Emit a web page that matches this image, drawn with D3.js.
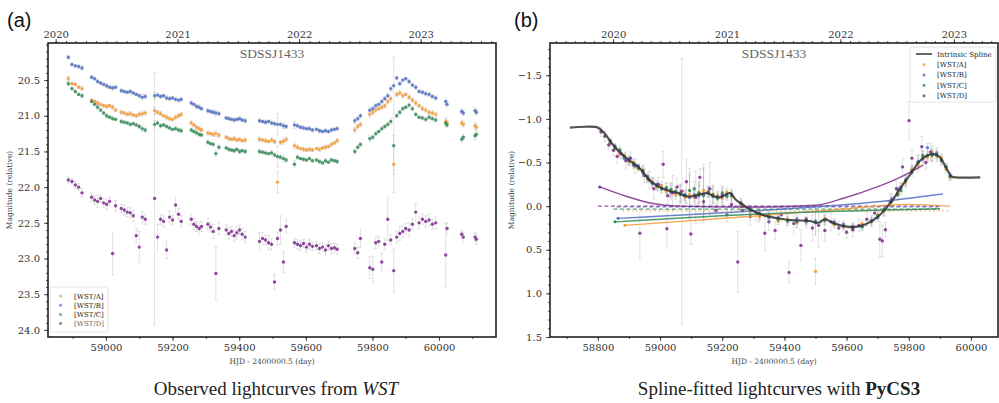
<!DOCTYPE html>
<html>
<head>
<meta charset="utf-8">
<script src="https://cdn.jsdelivr.net/npm/d3@7"></script>
<style>
body { margin: 0; background: #fff; }
svg { display: block; }
</style>
</head>
<body>
<svg id="fig" width="999" height="403"></svg>
<script>
// ---- observed light curves (panel a), shared epochs for the 4 images
var epochs = [
  58887, 58898, 58908, 58918, 58928,
  58957, 58966, 58975, 58984, 58993, 59002, 59011, 59020, 59029,
  59046, 59055, 59064, 59073, 59082, 59091, 59100, 59109, 59118,
  59146, 59155, 59164, 59173, 59182, 59191, 59200, 59209, 59218, 59226,
  59256, 59264, 59272, 59280, 59287,
  59306, 59314, 59322, 59330, 59339,
  59361, 59369, 59377, 59385, 59393, 59401, 59409, 59418,
  59461, 59470, 59479, 59488, 59497, 59506, 59515, 59524, 59533, 59541,
  59566, 59575, 59584, 59593, 59602, 59611, 59620,
  59632, 59641, 59650, 59659, 59668, 59677, 59686, 59694,
  59747, 59756, 59764,
  59792, 59801, 59810, 59819, 59828, 59837, 59846, 59855, 59864, 59873, 59882,
  59891, 59900, 59910, 59920, 59930, 59940, 59950, 59960, 59970, 59980, 59990,
  60020, 60024,
  60068, 60073, 60108, 60112
];
var magA = [
  20.48, 20.55, 20.56, 20.60, 20.62,
  20.78, 20.80, 20.82, 20.84, 20.86, 20.87, 20.86, 20.88, 20.92,
  20.95, 20.96, 20.98, 20.97, 20.99, 21.00, 20.98, 20.97, 20.96,
  20.93, 20.95, 20.97, 21.00, 21.02, 21.04, 21.05, 21.02, 21.00, 20.98,
  21.10, 21.13, 21.16, 21.18, 21.20,
  21.24, 21.25, 21.26, 21.25, 21.27,
  21.30, 21.32, 21.33, 21.32, 21.34, 21.33, 21.35, 21.34,
  21.33, 21.34, 21.35, 21.36, 21.34, 21.36, 21.93, 21.37, 21.36, 21.33,
  21.42, 21.44, 21.46, 21.47, 21.48, 21.47, 21.48,
  21.46, 21.47, 21.45, 21.44, 21.43, 21.40, 21.38, 21.35,
  21.20, 21.15, 21.12,
  20.98, 20.95, 20.92, 20.90, 20.88, 20.86, 20.80, 20.76, 21.68, 20.70, 20.68,
  20.72, 20.70, 20.74, 20.78, 20.82, 20.86, 20.90, 20.92, 20.95, 20.96, 20.98,
  21.08, 21.10,
  21.10, 21.12, 21.14, 21.16
];
var magB = [
  20.18, 20.28, 20.30, 20.31, 20.33,
  20.46, 20.48, 20.52, 20.54, 20.56, 20.58, 20.60, 20.61, 20.60,
  20.65, 20.66, 20.67, 20.66, 20.68, 20.70, 20.72, 20.74, 20.73,
  20.72, 20.71, 20.73, 20.72, 20.75, 20.76, 20.75, 20.77, 20.78, 20.77,
  20.82, 20.84, 20.87, 20.88, 20.90,
  20.93, 20.94, 20.95, 20.96, 20.97,
  21.03, 21.04, 21.05, 21.06, 21.05, 21.04, 21.06, 21.07,
  21.07, 21.08, 21.09, 21.08, 21.10, 21.11, 21.12, 21.12, 21.14, 21.15,
  21.13, 21.14, 21.16, 21.17, 21.18, 21.18, 21.20,
  21.19, 21.21, 21.22, 21.21, 21.22, 21.20, 21.19, 21.18,
  21.07, 21.04, 21.00,
  20.92, 20.90, 20.86, 20.84, 20.80, 20.76, 20.72, 20.62, 20.58, 20.47, 20.55,
  20.50, 20.48, 20.52, 20.57, 20.60, 20.66, 20.67, 20.69, 20.70, 20.73, 20.75,
  20.80, 20.84,
  20.94, 20.96, 20.93, 20.95
];
var magC = [
  20.55, 20.62, 20.66, 20.70, 20.72,
  20.80, 20.84, 20.88, 20.92, 20.96, 21.00, 21.02, 21.04, 21.05,
  21.08, 21.09, 21.10, 21.12, 21.11, 21.13, 21.15, 21.18, 21.20,
  21.12, 21.10, 21.14, 21.13, 21.15, 21.17, 21.19, 21.18, 21.20, 21.21,
  21.20, 21.22, 21.24, 21.26, 21.27,
  21.37, 21.39, 21.40, 21.53, 21.44,
  21.45, 21.47, 21.48, 21.49, 21.47, 21.50, 21.49, 21.50,
  21.50, 21.51, 21.52, 21.53, 21.52, 21.55, 21.57, 21.58, 21.60, 21.62,
  21.68, 21.58, 21.60, 21.61, 21.62, 21.60, 21.63,
  21.62, 21.64, 21.66, 21.63, 21.65, 21.62, 21.63, 21.64,
  21.50, 21.44, 21.40,
  21.32, 21.30, 21.25, 21.22, 21.18, 21.15, 21.12, 21.08, 21.42, 21.00, 20.95,
  20.90, 20.88, 20.85, 20.90, 20.98, 21.02, 21.03, 21.05, 21.02, 21.04, 21.06,
  21.10, 21.13,
  21.33, 21.30, 21.28, 21.26
];
var magD = [
  21.90, 21.92, 21.97, 22.00, 22.08,
  22.14, 22.18, 22.20, 22.16, 22.22, 22.24, 22.20, 22.93, 22.26,
  22.30, 22.32, 22.35, 22.36, 22.40, 22.68, 22.84, 22.42, 22.45,
  22.16, 22.70, 22.45, 22.48, 22.88, 22.42, 22.46, 22.25, 22.38, 22.48,
  22.45, 22.52, 22.55, 22.58, 22.55,
  22.52, 22.56, 22.62, 23.21, 22.58,
  22.60, 22.65, 22.62, 22.68, 22.64, 22.60, 22.66, 22.70,
  22.76, 22.72, 22.74, 22.78, 22.80, 23.33, 22.72, 22.60, 23.05, 22.55,
  22.78, 22.80, 22.82, 22.79, 22.84, 22.80, 22.83,
  22.82, 22.86, 22.84, 22.88, 22.82, 22.86, 22.85, 22.87,
  22.86, 22.92, 22.72,
  23.13, 23.15, 22.78, 22.76, 23.05, 22.80, 22.45, 22.74, 23.17, 22.70, 22.65,
  22.62, 22.58, 22.60, 22.52, 22.35, 22.50, 22.45, 22.48, 22.46, 22.52, 22.50,
  22.95, 22.58,
  22.66, 22.70, 22.70, 22.73
];
var errABC = [
  0.03, 0.02, 0.02, 0.02, 0.03,
  0.02, 0.02, 0.03, 0.02, 0.02, 0.03, 0.02, 0.03, 0.02,
  0.03, 0.02, 0.02, 0.03, 0.02, 0.02, 0.03, 0.04, 0.03,
  0.05, 0.03, 0.03, 0.02, 0.03, 0.03, 0.02, 0.03, 0.03, 0.03,
  0.03, 0.02, 0.03, 0.03, 0.02,
  0.03, 0.02, 0.03, 0.04, 0.03,
  0.02, 0.03, 0.02, 0.03, 0.02, 0.03, 0.02, 0.03,
  0.03, 0.02, 0.03, 0.02, 0.03, 0.03, 0.15, 0.03, 0.04, 0.03,
  0.05, 0.03, 0.02, 0.03, 0.02, 0.03, 0.02,
  0.02, 0.03, 0.02, 0.03, 0.02, 0.03, 0.02, 0.03,
  0.04, 0.03, 0.03,
  0.04, 0.03, 0.03, 0.02, 0.03, 0.03, 0.03, 0.04, 0.40, 0.03, 0.03,
  0.03, 0.02, 0.03, 0.03, 0.03, 0.02, 0.03, 0.03, 0.03, 0.03, 0.03,
  0.05, 0.04,
  0.04, 0.04, 0.05, 0.04
];
var errD = [
  0.04, 0.04, 0.05, 0.05, 0.06,
  0.06, 0.06, 0.08, 0.05, 0.06, 0.07, 0.06, 0.30, 0.07,
  0.06, 0.07, 0.06, 0.07, 0.08, 0.10, 0.22, 0.08, 0.07,
  1.77, 0.18, 0.07, 0.08, 0.12, 0.08, 0.07, 0.10, 0.08, 0.08,
  0.07, 0.08, 0.07, 0.08, 0.07,
  0.08, 0.07, 0.10, 0.37, 0.08,
  0.07, 0.08, 0.07, 0.08, 0.09, 0.07, 0.08, 0.08,
  0.12, 0.08, 0.07, 0.10, 0.08, 0.10, 0.09, 0.20, 0.15, 0.10,
  0.06, 0.07, 0.07, 0.06, 0.07, 0.07, 0.06,
  0.06, 0.07, 0.06, 0.07, 0.06, 0.07, 0.06, 0.07,
  0.08, 0.08, 0.12,
  0.15, 0.18, 0.08, 0.07, 0.12, 0.08, 0.30, 0.07, 0.30, 0.08, 0.10,
  0.08, 0.07, 0.10, 0.08, 0.12, 0.08, 0.07, 0.08, 0.08, 0.07, 0.08,
  0.45, 0.08,
  0.06, 0.07, 0.06, 0.07
];

// ---- spline-fitted, shifted light curves (panel b)
var fitEpochs = [
  58840, 58855, 58870, 58885, 58900, 58915, 58930, 58945, 58960, 58975,
  58990, 59005, 59020, 59035, 59050, 59065, 59080, 59095, 59110, 59125,
  59140, 59155, 59170, 59185, 59200, 59215, 59230, 59260, 59290, 59320,
  59350, 59380, 59410, 59440, 59470, 59500, 59530, 59560, 59590, 59620,
  59650, 59680, 59700, 59720, 59745, 59765, 59775, 59790, 59810, 59830,
  59845, 59860, 59875, 59890, 59905, 59920, 59933
];
var fitA = [
  -0.72, -0.66, -0.60, -0.58, -0.51, -0.50, -0.43, -0.40, -0.31, -0.28,
  -0.22, -0.23, -0.17, -0.18, -0.13, -0.15, -0.10, -0.13, -0.10, -0.16,
  -0.18, -0.17, -0.14, -0.12, -0.09, -0.16, -0.11, -0.01, 0.06, 0.12,
  0.10, 0.17, 0.15, 0.19, 0.16, 0.75, 0.14, 0.21, 0.24, 0.26,
  0.20, 0.18, 0.10, 0.06, -0.05, -0.15, -0.22, -0.27, -0.42, -0.47,
  -0.57, -0.56, -0.62, -0.57, -0.55, -0.42, -0.33
];
var fitB = [
  -0.75, -0.69, -0.63, -0.55, -0.54, -0.47, -0.46, -0.38, -0.34, -0.26,
  -0.25, -0.20, -0.20, -0.16, -0.16, -0.13, -0.13, -0.10, -0.13, -0.12,
  -0.14, -0.16, -0.11, -0.11, -0.12, -0.13, -0.14, -0.04, 0.03, 0.08,
  0.13, 0.13, 0.17, 0.15, 0.18, 0.17, 0.16, 0.18, 0.21, 0.23,
  0.23, 0.16, 0.13, 0.04, -0.08, -0.19, -0.21, -0.30, -0.39, -0.51,
  -0.54, -0.67, -0.59, -0.61, -0.52, -0.45, -0.35
];
var fitC = [
  -0.73, -0.67, -0.64, -0.57, -0.52, -0.48, -0.44, -0.41, -0.32, -0.27,
  -0.23, -0.20, -0.21, -0.19, -0.17, -0.15, -0.12, -0.18, -0.20, -0.15,
  -0.12, -0.16, -0.13, -0.09, -0.15, -0.11, -0.12, -0.03, 0.05, 0.10,
  0.11, 0.15, 0.17, 0.18, 0.17, 0.19, 0.16, 0.20, 0.23, 0.25,
  0.24, 0.18, 0.11, 0.05, -0.06, -0.13, -0.18, -0.29, -0.41, -0.50,
  -0.58, -0.58, -0.58, -0.59, -0.53, -0.45, -0.34
];
var fitErrABC = [
  0.03, 0.03, 0.04, 0.03, 0.05, 0.04, 0.03, 0.06, 0.04, 0.05,
  0.04, 0.05, 0.06, 0.08, 0.05, 0.10, 0.06, 0.25, 0.08, 0.12,
  0.30, 0.06, 0.10, 0.05, 0.08, 0.05, 0.06, 0.05, 0.04, 0.06,
  0.05, 0.04, 0.05, 0.06, 0.04, 0.15, 0.05, 0.04, 0.04, 0.03,
  0.04, 0.05, 0.04, 0.06, 0.05, 0.04, 0.05, 0.06, 0.05, 0.08,
  0.06, 0.05, 0.07, 0.06, 0.05, 0.04, 0.04
];
var fitEpochsD = [
  58810, 58822, 58835, 58850, 58862, 58875, 58890, 58905, 58920, 58935,
  58950, 58965, 58980, 58995, 59010, 59022, 59025, 59040, 59055, 59070,
  59085, 59099, 59115, 59128, 59140, 59160, 59180, 59200, 59215, 59230,
  59250, 59265, 59290, 59310, 59337, 59350, 59370, 59390, 59415, 59430,
  59453, 59470, 59490, 59510, 59530, 59550, 59575, 59600, 59620, 59640,
  59665, 59690, 59707, 59715, 59725, 59740, 59760, 59780, 59801, 59810,
  59842, 59855, 59870
];
var fitD = [
  -0.85, -0.80, -0.70, -0.64, -0.57, -0.60, -0.52, -0.55, -0.46, 0.31,
  -0.35, -0.30, -0.20, -0.25, -0.48, 0.26, -0.12, -0.15, -0.22, -0.17,
  -0.28, 0.32, -0.10, -0.33, -0.05, -0.20, 0.05, -0.12, 0.10, -0.02,
  0.64, 0.05, 0.12, 0.08, 0.31, 0.18, 0.28, 0.10, 0.76, 0.20,
  0.45, 0.15, 0.25, 0.22, 0.28, 0.18, 0.25, 0.30, 0.27, 0.22,
  0.15, 0.08, 0.38, 0.40, 0.27, -0.05, -0.20, -0.45, -0.98, -0.55,
  -0.68, -0.50, -0.62
];
var fitErrD = [
  0.05, 0.06, 0.05, 0.06, 0.08, 0.06, 0.10, 0.07, 0.08, 0.30,
  0.08, 0.10, 0.12, 0.08, 0.15, 0.22, 0.10, 0.20, 0.10, 1.52,
  0.25, 0.12, 0.30, 0.10, 0.15, 0.30, 0.08, 0.10, 0.08, 0.12,
  0.35, 0.08, 0.10, 0.08, 0.20, 0.10, 0.10, 0.08, 0.12, 0.12,
  0.18, 0.10, 0.15, 0.25, 0.12, 0.10, 0.08, 0.07, 0.08, 0.07,
  0.08, 0.10, 0.20, 0.18, 0.08, 0.10, 0.08, 0.10, 0.22, 0.10,
  0.12, 0.08, 0.10
];

// intrinsic spline knots
var splineEpochs = [
  58710, 58760, 58800, 58820, 58845, 58870, 58895, 58930, 58975, 59016,
  59057, 59090, 59112, 59135, 59150, 59175, 59193, 59210, 59225, 59245,
  59265, 59290, 59321, 59350, 59380, 59420, 59480, 59510, 59530, 59555,
  59580, 59620, 59660, 59698, 59730, 59750, 59772, 59804, 59836, 59860,
  59878, 59900, 59920, 59938, 59950, 60030
];
var splineMag = [
  -0.90, -0.91, -0.90, -0.84, -0.72, -0.62, -0.54, -0.45, -0.27, -0.19,
  -0.15, -0.11, -0.12, -0.14, -0.15, -0.11, -0.10, -0.13, -0.15, -0.07,
  -0.02, 0.04, 0.09, 0.12, 0.14, 0.16, 0.17, 0.19, 0.15, 0.19,
  0.22, 0.24, 0.21, 0.13, 0.01, -0.08, -0.20, -0.36, -0.52, -0.58,
  -0.60, -0.56, -0.44, -0.34, -0.33, -0.33
];

// microlensing curves
var mlEpochs = [
  [58887, 59321, 59600, 59790, 59933],
  [58865, 59321, 59700, 59910],
  [58855, 59321, 59900],
  [58806, 58893, 58977, 59054, 59300, 59500, 59590, 59698, 59772, 59846]
];
var mlMag = [
  [0.22, 0.11, 0.03, -0.02, 0.00],
  [0.14, 0.05, -0.05, -0.14],
  [0.18, 0.09, 0.03],
  [-0.22, -0.11, -0.03, 0.00, 0.01, -0.01, -0.09, -0.22, -0.33, -0.47]
];
// constant magnitude shifts (dashed)
var shiftMag = [0.055, 0.01, 0.035, 0.00];
var shiftStart = [58880, 58860, 58850, 58800];
var shiftEnd = [59930, 59895, 59900, 59900];

var bands = ["[WST/A]", "[WST/B]", "[WST/C]", "[WST/D]"];
var colors = ["#f59a32", "#4f6fc4", "#2f8a55", "#7c2b8d"];

var svg = d3.select("#fig");
var TOP = 43, BOTTOM = 337;
var serif = "DejaVu Serif, serif";

function mjdDate(m) {
    return new Date(Date.UTC(1858, 10, 17) + m * 864e5);
}

function styleAxis(sel, size) {
    sel.select(".domain").remove();
    sel.selectAll(".tick line").attr("stroke", "#222").attr("stroke-width", 0.8);
    sel.selectAll(".tick text")
        .attr("font-family", serif)
        .attr("font-size", size)
        .attr("fill", "#333");
}

function makePanel(p) {
    var x = d3.scaleLinear().domain(p.xDomain).range([p.left, p.right]);
    var y = d3.scaleLinear().domain(p.yDomain).range([TOP, BOTTOM]);
    var g = svg.append("g");

    g.append("clipPath").attr("id", "clip" + p.name)
        .append("rect")
        .attr("x", p.left).attr("y", TOP)
        .attr("width", p.right - p.left).attr("height", BOTTOM - TOP);

    var plot = g.append("g").attr("clip-path", "url(#clip" + p.name + ")");

    // bottom axis
    var bx = g.append("g").attr("transform", "translate(0," + BOTTOM + ")");
    bx.append("g").call(d3.axisBottom(x).tickValues(p.xMinor).tickSize(2).tickFormat(""))
        .call(styleAxis, 10);
    bx.append("g").call(d3.axisBottom(x).tickValues(p.xTicks).tickSize(4).tickPadding(3).tickFormat(d3.format("d")))
        .call(styleAxis, 10);

    // top axis in calendar years
    var t = d3.scaleUtc().domain(p.xDomain.map(mjdDate)).range([p.left, p.right]);
    var tx = g.append("g").attr("transform", "translate(0," + TOP + ")");
    tx.append("g").call(d3.axisTop(t).ticks(d3.utcMonth).tickSize(2).tickFormat(""))
        .call(styleAxis, 10);
    tx.append("g").call(d3.axisTop(t).ticks(d3.utcYear).tickSize(4).tickPadding(1).tickFormat(d3.utcFormat("%Y")))
        .call(styleAxis, 10);

    // left axis
    var ly = g.append("g").attr("transform", "translate(" + p.left + ",0)");
    ly.append("g").call(d3.axisLeft(y).tickValues(p.yMinor).tickSize(2).tickFormat(""))
        .call(styleAxis, 10);
    ly.append("g").call(d3.axisLeft(y).tickValues(p.yTicks).tickSize(4).tickPadding(4).tickFormat(d3.format(".1f")))
        .call(styleAxis, 10);

    // frame
    g.append("rect")
        .attr("x", p.left).attr("y", TOP)
        .attr("width", p.right - p.left).attr("height", BOTTOM - TOP)
        .attr("fill", "none").attr("stroke", "#222").attr("stroke-width", 1.6);

    // labels
    g.append("text")
        .attr("transform", "translate(" + p.yLabelX + "," + (TOP + BOTTOM) / 2 + ") rotate(-90)")
        .attr("text-anchor", "middle")
        .attr("font-family", serif).attr("font-size", 7.5).attr("fill", "#444")
        .text("Magnitude (relative)");
    g.append("text")
        .attr("x", (p.left + p.right) / 2).attr("y", 364)
        .attr("text-anchor", "middle")
        .attr("font-family", serif).attr("font-size", 7.5).attr("fill", "#444")
        .text("HJD - 2400000.5 (day)");
    g.append("text")
        .attr("x", (p.left + p.right) / 2).attr("y", 58)
        .attr("text-anchor", "middle")
        .attr("font-family", "Liberation Serif, serif").attr("font-size", 13.5).attr("fill", "#666")
        .text("SDSSJ1433");
    g.append("text")
        .attr("x", p.tagX).attr("y", 27)
        .attr("font-family", "Liberation Sans, Arial, sans-serif").attr("font-size", 20).attr("fill", "#111")
        .text(p.tag);

    return {x: x, y: y, plot: plot, g: g};
}

function toPoints(t, m, e) {
    return d3.range(t.length).map(function (i) {
        return {t: t[i], m: m[i], e: e[i]};
    });
}

function drawErrors(plot, x, y, pts) {
    var eb = plot.append("g")
        .attr("stroke", "#9a9a9a").attr("stroke-opacity", 0.35).attr("stroke-width", 0.8);
    eb.selectAll("line.bar").data(pts).enter().append("line")
        .attr("class", "bar")
        .attr("x1", function (d) { return x(d.t); })
        .attr("x2", function (d) { return x(d.t); })
        .attr("y1", function (d) { return y(d.m - d.e); })
        .attr("y2", function (d) { return y(d.m + d.e); });
    var caps = [];
    pts.forEach(function (d) {
        caps.push({t: d.t, v: d.m - d.e});
        caps.push({t: d.t, v: d.m + d.e});
    });
    eb.selectAll("line.cap").data(caps).enter().append("line")
        .attr("class", "cap")
        .attr("x1", function (d) { return x(d.t) - 1.6; })
        .attr("x2", function (d) { return x(d.t) + 1.6; })
        .attr("y1", function (d) { return y(d.v); })
        .attr("y2", function (d) { return y(d.v); });
}

function drawDots(plot, x, y, pts, color) {
    plot.append("g").selectAll("circle").data(pts).enter().append("circle")
        .attr("cx", function (d) { return x(d.t); })
        .attr("cy", function (d) { return y(d.m); })
        .attr("r", 1.7)
        .attr("fill", color)
        .attr("fill-opacity", 0.85);
}

// ---------------- panel (a)
var pa = makePanel({
    name: "a", left: 48, right: 496,
    xDomain: [58826, 60171], yDomain: [19.98, 24.1],
    xTicks: [59000, 59200, 59400, 59600, 59800, 60000],
    xMinor: d3.range(58900, 60200, 100),
    yTicks: [20.5, 21.0, 21.5, 22.0, 22.5, 23.0, 23.5, 24.0],
    yMinor: d3.range(200, 241).map(function (v) { return v / 10; }),
    yLabelX: 12, tag: "(a)", tagX: 7
});

var obsMags = [magA, magB, magC, magD];
var obsErrs = [errABC, errABC, errABC, errD];
var obsPts = obsMags.map(function (m, i) { return toPoints(epochs, m, obsErrs[i]); });
obsPts.forEach(function (pts) { drawErrors(pa.plot, pa.x, pa.y, pts); });
obsPts.forEach(function (pts, i) { drawDots(pa.plot, pa.x, pa.y, pts, colors[i]); });

// legend (a)
var lga = pa.g.append("g");
lga.append("rect")
    .attr("x", 50).attr("y", 287).attr("width", 58).attr("height", 45)
    .attr("rx", 2).attr("fill", "#fff").attr("fill-opacity", 0.85)
    .attr("stroke", "#ddd").attr("stroke-width", 0.8);
bands.forEach(function (b, i) {
    var yy = 296 + i * 9.2;
    lga.append("circle").attr("cx", 60.5).attr("cy", yy).attr("r", 1.5)
        .attr("fill", colors[i]).attr("fill-opacity", 0.7);
    lga.append("text").attr("x", 74).attr("y", yy + 2.5)
        .attr("font-family", serif).attr("font-size", 7)
        .attr("fill", i === 3 ? "#666" : "#222")
        .text(b);
});

// ---------------- panel (b)
var pb = makePanel({
    name: "b", left: 550, right: 998,
    xDomain: [58646, 60087], yDomain: [-1.87, 1.5],
    xTicks: [58800, 59000, 59200, 59400, 59600, 59800, 60000],
    xMinor: d3.range(58700, 60100, 100),
    yTicks: [-1.5, -1.0, -0.5, 0.0, 0.5, 1.0, 1.5],
    yMinor: d3.range(-18, 16).map(function (v) { return v / 10; }),
    yLabelX: 514, tag: "(b)", tagX: 514
});

var fitPts = [
    toPoints(fitEpochs, fitA, fitErrABC),
    toPoints(fitEpochs, fitB, fitErrABC),
    toPoints(fitEpochs, fitC, fitErrABC),
    toPoints(fitEpochsD, fitD, fitErrD)
];
fitPts.forEach(function (pts) { drawErrors(pb.plot, pb.x, pb.y, pts); });
fitPts.forEach(function (pts, i) { drawDots(pb.plot, pb.x, pb.y, pts, colors[i]); });

// constant shifts (dashed) and microlensing curves
bands.forEach(function (b, i) {
    pb.plot.append("line")
        .attr("x1", pb.x(shiftStart[i])).attr("x2", pb.x(shiftEnd[i]))
        .attr("y1", pb.y(shiftMag[i])).attr("y2", pb.y(shiftMag[i]))
        .attr("stroke", colors[i]).attr("stroke-width", 1.2)
        .attr("stroke-dasharray", i === 0 ? "1.5,3" : "4,2.5")
        .attr("stroke-opacity", 0.8);
});
var mlLine = d3.line()
    .x(function (d) { return pb.x(d[0]); })
    .y(function (d) { return pb.y(d[1]); })
    .curve(d3.curveMonotoneX);
mlEpochs.forEach(function (ep, i) {
    var pts = d3.zip(ep, mlMag[i]);
    pb.plot.append("path")
        .attr("d", mlLine(pts))
        .attr("fill", "none")
        .attr("stroke", colors[i]).attr("stroke-width", 1.4)
        .attr("stroke-opacity", 0.85);
    pb.plot.append("circle")
        .attr("cx", pb.x(ep[0])).attr("cy", pb.y(mlMag[i][0])).attr("r", 1.5)
        .attr("fill", colors[i]);
});

// intrinsic spline
var splineLine = d3.line()
    .x(function (d) { return pb.x(d[0]); })
    .y(function (d) { return pb.y(d[1]); })
    .curve(d3.curveCatmullRom.alpha(0.5));
pb.plot.append("path")
    .attr("d", splineLine(d3.zip(splineEpochs, splineMag)))
    .attr("fill", "none")
    .attr("stroke", "#333").attr("stroke-width", 2.2)
    .attr("stroke-opacity", 0.85);

// legend (b)
var lgb = pb.g.append("g");
lgb.append("rect")
    .attr("x", 910).attr("y", 47).attr("width", 86).attr("height", 55)
    .attr("rx", 2).attr("fill", "#fff").attr("fill-opacity", 0.85)
    .attr("stroke", "#ddd").attr("stroke-width", 0.8);
lgb.append("line")
    .attr("x1", 916).attr("x2", 932).attr("y1", 54).attr("y2", 54)
    .attr("stroke", "#666").attr("stroke-width", 2);
lgb.append("text").attr("x", 937).attr("y", 56.5)
    .attr("font-family", serif).attr("font-size", 7).attr("fill", "#222")
    .text("Intrinsic Spline");
bands.forEach(function (b, i) {
    var yy = 64.5 + i * 10.4;
    lgb.append("circle").attr("cx", 924).attr("cy", yy).attr("r", 1.5)
        .attr("fill", colors[i]).attr("fill-opacity", 0.8);
    lgb.append("text").attr("x", 937).attr("y", yy + 2.5)
        .attr("font-family", serif).attr("font-size", 7).attr("fill", "#222")
        .text(b);
});

// captions
var capA = svg.append("text")
    .attr("x", 276).attr("y", 395).attr("text-anchor", "middle")
    .attr("font-family", "Liberation Serif, serif").attr("font-size", 19).attr("fill", "#222");
capA.append("tspan").text("Observed lightcurves from ");
capA.append("tspan").attr("font-style", "italic").text("WST");

var capB = svg.append("text")
    .attr("x", 779).attr("y", 395).attr("text-anchor", "middle")
    .attr("font-family", "Liberation Serif, serif").attr("font-size", 19).attr("fill", "#222");
capB.append("tspan").text("Spline-fitted lightcurves with ");
capB.append("tspan").attr("font-weight", "bold").text("PyCS3");
</script>
</body>
</html>
